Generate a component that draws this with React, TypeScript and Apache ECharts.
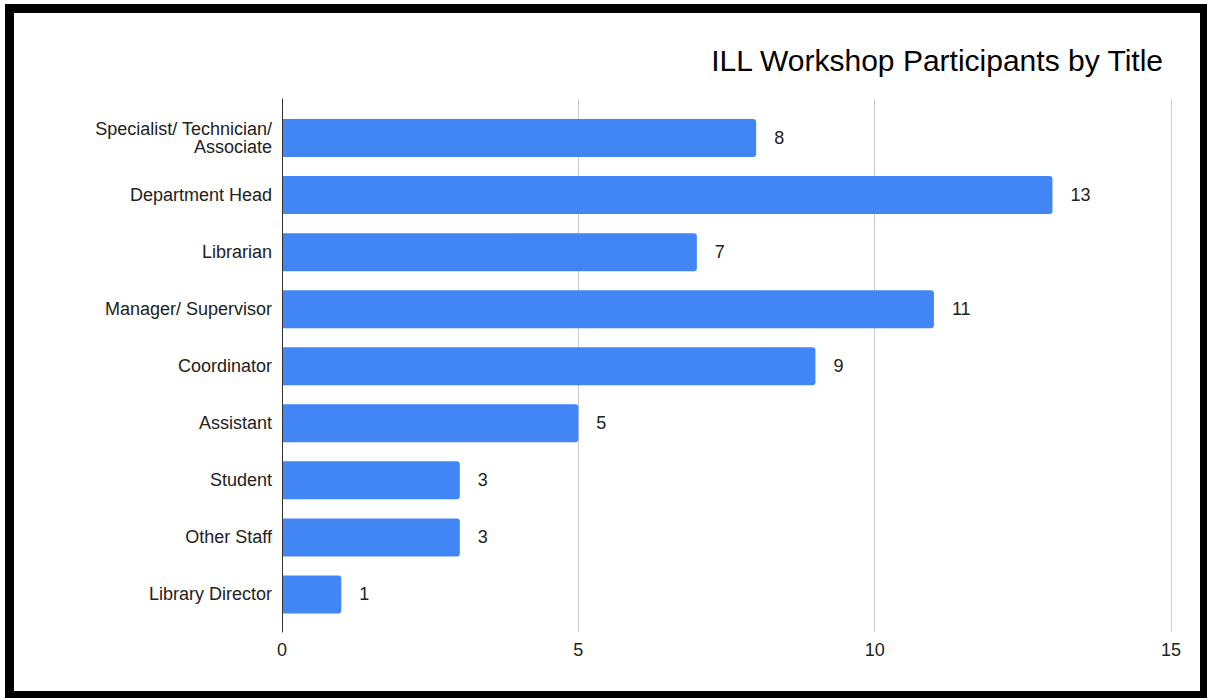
import React, { useEffect, useRef } from "react";
import * as echarts from "echarts";

const categories = [
  "Specialist/ Technician/\nAssociate",
  "Department Head",
  "Librarian",
  "Manager/ Supervisor",
  "Coordinator",
  "Assistant",
  "Student",
  "Other Staff",
  "Library Director",
];
const participants = [8, 13, 7, 11, 9, 5, 3, 3, 1];
const titleText = "ILL Workshop Participants by Title";
const xMin = 0;
const xMax = 15;
const xInterval = 5;

const FONT = "'Liberation Sans', Arial, sans-serif";

export default function App() {
  const ref = useRef<HTMLDivElement>(null);

  useEffect(() => {
    if (!ref.current) return;
    const chart = echarts.init(ref.current, undefined, { renderer: "svg" });
    chart.setOption({
      animation: false,
      backgroundColor: "#ffffff",
      textStyle: { fontFamily: FONT },
      graphic: [
        {
          type: "text",
          x: 1163,
          y: 60,
          style: {
            text: titleText,
            textAlign: "right",
            textVerticalAlign: "middle",
            fontSize: 30,
            fontFamily: FONT,
            fill: "#000000",
          },
        },
      ],
      grid: [
        { left: 282, top: 99, width: 889, height: 533, containLabel: false },
        { left: 282, top: 109.5, width: 889, height: 513.5, containLabel: false },
      ],
      xAxis: [
        {
          type: "value",
          gridIndex: 0,
          min: xMin,
          max: xMax,
          interval: xInterval,
          axisLine: { show: false },
          axisTick: { show: false },
          splitLine: { show: true, lineStyle: { color: "#cccccc", width: 1 } },
          axisLabel: {
            fontSize: 18,
            color: "#222222",
            margin: 9,
            fontFamily: FONT,
          },
        },
        {
          type: "value",
          gridIndex: 1,
          min: xMin,
          max: xMax,
          show: false,
        },
      ],
      yAxis: [
        {
          type: "value",
          gridIndex: 0,
          min: 0,
          max: 1,
          axisLine: { show: true, lineStyle: { color: "#333333", width: 1 } },
          axisTick: { show: false },
          axisLabel: { show: false },
          splitLine: { show: false },
          z: 5,
        },
        {
          type: "category",
          gridIndex: 1,
          data: categories,
          inverse: true,
          axisLine: { show: false },
          axisTick: { show: false },
          splitLine: { show: false },
          axisLabel: {
            fontSize: 18,
            lineHeight: 18,
            color: "#222222",
            margin: 10,
            fontFamily: FONT,
            align: "right",
          },
        },
      ],
      series: [
        {
          type: "bar",
          xAxisIndex: 1,
          yAxisIndex: 1,
          data: participants,
          barWidth: 38,
          itemStyle: { color: "#4285f4", borderRadius: [0, 3, 3, 0] },
          label: {
            show: true,
            position: "right",
            distance: 18,
            fontSize: 18,
            color: "#222222",
            fontFamily: FONT,
          },
          z: 3,
        },
      ],
    });
    return () => chart.dispose();
  }, []);

  return (
    <div
      style={{
        position: "absolute",
        left: 0,
        top: 0,
        width: 1207,
        height: 698,
        overflow: "hidden",
        background: "#ffffff",
      }}
    >
      <div
        ref={ref}
        style={{ position: "absolute", left: 0, top: 0, width: 1207, height: 698 }}
      />
      <div
        style={{
          position: "absolute",
          left: 5,
          top: 4,
          width: 1204,
          height: 696,
          border: "9px solid #000000",
          boxSizing: "border-box",
          pointerEvents: "none",
        }}
      />
    </div>
  );
}
